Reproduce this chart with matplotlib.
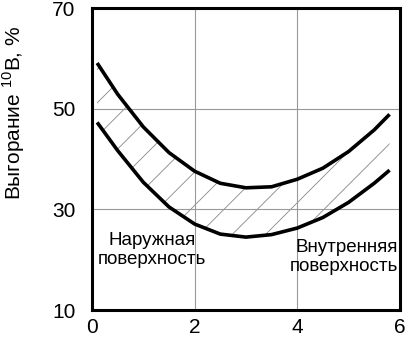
import matplotlib
matplotlib.use("Agg")
import matplotlib.pyplot as plt

plt.rcParams['font.family'] = ['Liberation Sans', 'DejaVu Sans']
plt.rcParams['mathtext.fontset'] = 'custom'
plt.rcParams['mathtext.rm'] = 'Liberation Sans'
plt.rcParams['hatch.linewidth'] = 0.6

# Values
x = [0.1, 0.5, 1.0, 1.5, 2.0, 2.5, 3.0, 3.5, 4.0, 4.5, 5.0, 5.5, 5.8]
upper = [59.1, 52.9, 46.4, 41.3, 37.6, 35.2, 34.3, 34.5, 36.0, 38.2, 41.5, 45.8, 48.9]
lower = [47.3, 41.7, 35.4, 30.5, 27.1, 25.1, 24.5, 25.0, 26.3, 28.4, 31.4, 35.2, 37.8]

xticks = [0, 2, 4, 6]
yticks = [10, 30, 50, 70]

fig = plt.figure(figsize=(4.08, 3.40), dpi=100)
ax = fig.add_axes([0.2255, 0.088, 0.7545, 0.888])

ax.fill_between(x, lower, upper, facecolor='none', edgecolor='#888888',
                hatch='/', linewidth=0)
ax.plot(x, upper, color='black', lw=2.6, solid_capstyle='butt')
ax.plot(x, lower, color='black', lw=2.6, solid_capstyle='butt')

ax.set_xlim(0, 6)
ax.set_ylim(10, 70)
ax.set_xticks(xticks)
ax.set_yticks(yticks)
ax.tick_params(length=0, labelsize=15, pad=6)
ax.tick_params(axis='y', pad=12)
ax.grid(True, color='#999999', lw=0.8)
for s in ax.spines.values():
    s.set_linewidth(2.2)

ax.set_ylabel('Выгорание $^{\\mathrm{10}}$B, %', fontsize=15)
ax.yaxis.set_label_coords(-0.21, 0.655)

ax.text(1.17, 22.0, 'Наружная\nповерхность', fontsize=13.5, ha='center',
        va='center', linespacing=1.15)
ax.text(5.97, 20.5, 'Внутренняя\nповерхность', fontsize=13.5, ha='right',
        va='center', multialignment='right', linespacing=1.15)

fig.savefig('out.png', dpi=100)
